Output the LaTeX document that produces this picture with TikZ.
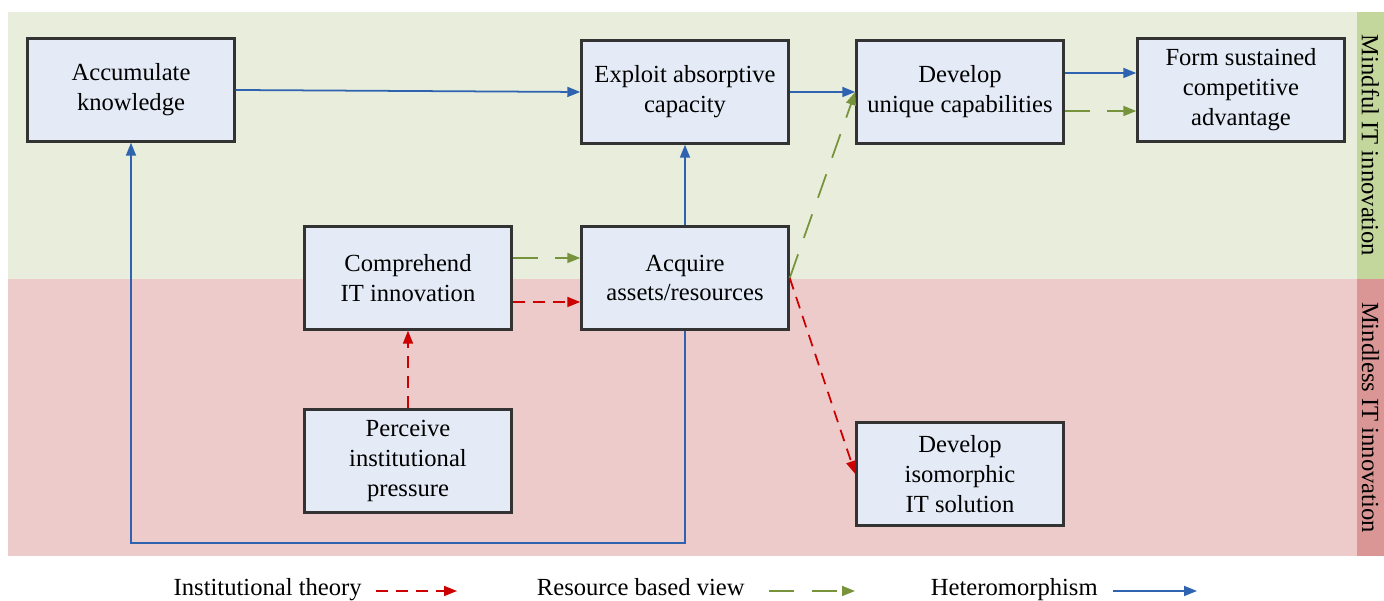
\documentclass[tikz,border=0pt]{standalone}
\usepackage{fontspec}
\setmainfont{Liberation Serif}
\usepackage{tikz}
\usetikzlibrary{arrows.meta}
\definecolor{colorG}{HTML}{E9EEDC}
\definecolor{colorGS}{HTML}{C3D69B}
\definecolor{colorR}{HTML}{ECCBCA}
\definecolor{colorRS}{HTML}{D99694}
\definecolor{colorBox}{HTML}{E4EBF6}
\definecolor{lineI}{HTML}{CC0000}
\definecolor{lineR}{HTML}{77933C}
\definecolor{lineH}{HTML}{2F63B0}
\tikzset{
    stage/.style={draw=black!80, line width=1.4pt, fill=colorBox, minimum width=4.14cm, minimum height=2.06cm, align=center, inner sep=2pt, font=\fontsize{14}{17}\selectfont},
    sidetext/.style={rotate=-90, font=\fontsize{14}{17}\selectfont},
    legendtext/.style={inner sep=0pt, font=\fontsize{14}{17}\selectfont},
    instarrow/.style={draw=lineI, line width=1pt, dash pattern=on 0.24cm off 0.16cm, -{Triangle[length=0.26cm,width=0.2cm]}},
    rbvarrow/.style={draw=lineR, line width=1pt, dash pattern=on 0.5cm off 0.35cm, -{Triangle[length=0.26cm,width=0.2cm]}},
    heteroarrow/.style={draw=lineH, line width=1pt, -{Triangle[length=0.26cm,width=0.2cm]}}
}

\begin{document}
\begin{tikzpicture}
        \useasboundingbox (0,0) rectangle (27.68,12.02);

        \fill[colorG] (0.16,6.44) rectangle (27.14,11.78);
        \fill[colorR] (0.16,0.90) rectangle (27.14,6.44);
        \fill[colorGS] (27.14,6.44) rectangle (27.68,11.78);
        \fill[colorRS] (27.14,0.90) rectangle (27.68,6.44);
        \node[sidetext] (mindful) at (27.41,9.11) {Mindful IT innovation};
        \node[sidetext] (mindless) at (27.41,3.67) {Mindless IT innovation};

        \node[stage] (acc) at (2.62,10.22) {Accumulate\\knowledge};
        \node[stage] (exploit) at (13.70,10.18) {Exploit absorptive\\capacity};
        \node[stage] (unique) at (19.20,10.18) {Develop\\unique capabilities};
        \node[stage] (form) at (24.82,10.22) {Form sustained\\competitive\\advantage};
        \node[stage] (compr) at (8.16,6.46) {Comprehend\\IT innovation};
        \node[stage] (acquire) at (13.70,6.46) {Acquire\\assets/resources};
        \node[stage] (perceive) at (8.16,2.80) {Perceive\\institutional\\pressure};
        \node[stage] (iso) at (19.20,2.54) {Develop\\isomorphic\\IT solution};

        \draw[heteroarrow] (acc.east) -- (exploit.west);
        \draw[heteroarrow] (exploit.east) -- (unique.west);
        \draw[heteroarrow] ([yshift=0.38cm]unique.east) -- ([yshift=0.38cm]unique.east -| form.west);
        \draw[rbvarrow] ([yshift=-0.38cm]unique.east) -- ([yshift=-0.38cm]unique.east -| form.west);
        \draw[heteroarrow] (acquire.north) -- (exploit.south);
        \draw[rbvarrow] ([yshift=0.40cm]compr.east) -- ([yshift=0.40cm]compr.east -| acquire.west);
        \draw[instarrow] ([yshift=-0.48cm]compr.east) -- ([yshift=-0.48cm]compr.east -| acquire.west);
        \draw[instarrow] (perceive.north) -- (compr.south);
        \draw[rbvarrow] (acquire.east) -- (unique.west);
        \draw[instarrow] (acquire.east) -- (iso.west);
        \draw[heteroarrow] (acquire.south) -- (acquire.south |- 0,1.16) -| (acc.south);

        \node[legendtext, anchor=base east] (legI) at (7.24,0.10) {Institutional theory};
        \coordinate (legIa) at (7.52,0.20);
        \coordinate (legIb) at (9.14,0.20);
        \draw[instarrow] (legIa) -- (legIb);

        \node[legendtext, anchor=base east] (legR) at (14.90,0.10) {Resource based view};
        \coordinate (legRa) at (15.38,0.20);
        \coordinate (legRb) at (17.10,0.20);
        \draw[rbvarrow] (legRa) -- (legRb);

        \node[legendtext, anchor=base east] (legH) at (21.96,0.10) {Heteromorphism};
        \coordinate (legHa) at (22.26,0.20);
        \coordinate (legHb) at (23.94,0.20);
        \draw[heteroarrow] (legHa) -- (legHb);
    \end{tikzpicture}
\end{document}
